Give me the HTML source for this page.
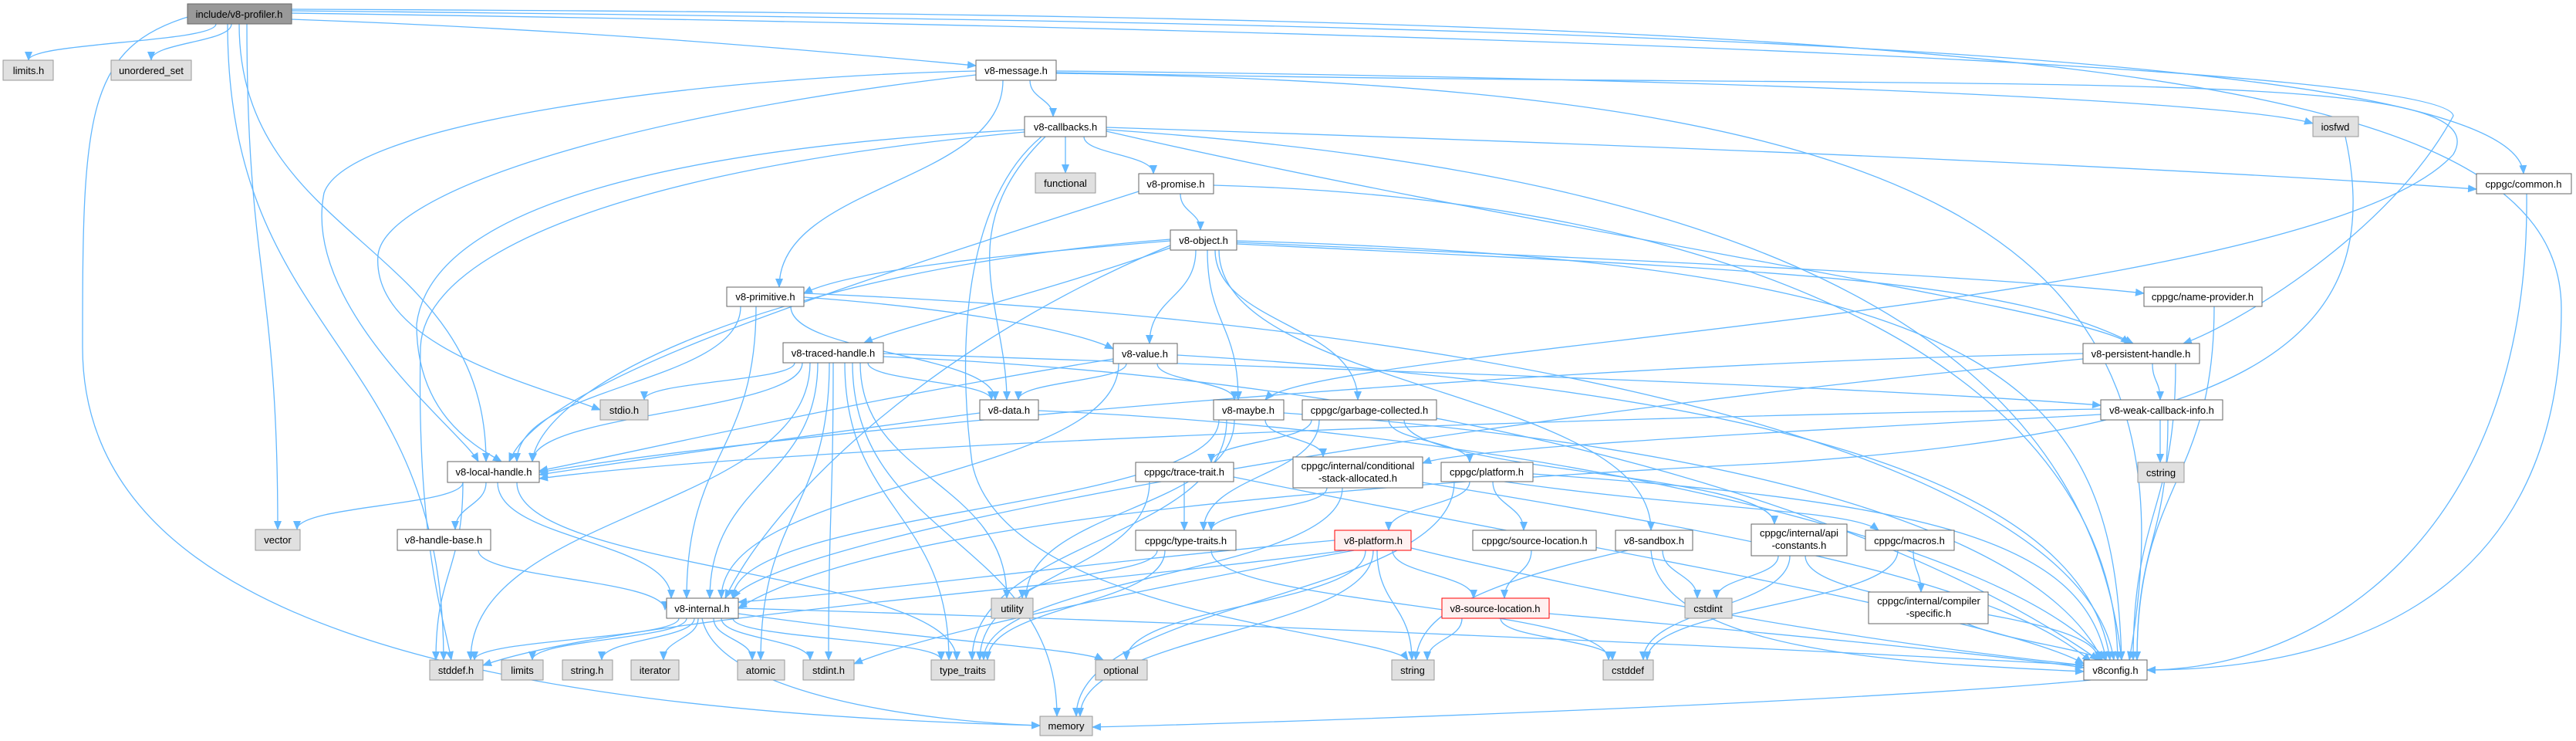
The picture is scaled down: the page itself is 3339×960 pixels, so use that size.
<!DOCTYPE html>
<html><head><meta charset="utf-8"><style>
html,body{margin:0;padding:0;background:#fff;width:3339px;height:960px;overflow:hidden}
svg{display:block}
text{font-family:"Liberation Sans",Arial,sans-serif;font-size:13px;fill:#000;text-anchor:middle}
.e{fill:none;stroke:#63b8ff;stroke-width:1.3;marker-end:url(#a)}
.w{fill:#fff;stroke:#666;stroke-width:1}
.g{fill:#e0e0e0;stroke:#999;stroke-width:1}
.r{fill:#fff0f0;stroke:#f00;stroke-width:1}
.p{fill:#999;stroke:#666;stroke-width:1}
</style></head><body>
<svg width="3339" height="960" viewBox="0 0 3339 960" xmlns="http://www.w3.org/2000/svg">
<defs><marker id="a" markerUnits="userSpaceOnUse" markerWidth="12" markerHeight="10" refX="11" refY="5" orient="auto"><path d="M0,0 L12,5 L0,10 z" fill="#63b8ff"/></marker></defs>
<g>
<path class="e" d="M280,31 C280,55 37,55 37,78"/>
<path class="e" d="M300,31 C300,55 196,55 196,78"/>
<path class="e" d="M378,25 C800,40 1100,70 1265,85"/>
<path class="e" d="M320,31 C320,358 360,358 360,686"/>
<path class="e" d="M250,20 C110,60 107,150 107,450 C107,800 600,920 1348,940"/>
<path class="e" d="M310,31 C310,314 630,314 630,598"/>
<path class="e" d="M295,31 C295,443 575,443 575,855"/>
<path class="e" d="M378,14 C2000,30 3260,60 3271,225"/>
<path class="e" d="M378,17 C2000,40 3170,90 3180,150 C3100,300 2900,420 2830,445"/>
<path class="e" d="M378,12 C2600,20 3320,80 3320,400 C3320,800 3000,868 2783,868"/>
<path class="e" d="M1335,104 C1335,128 1365,128 1365,151"/>
<path class="e" d="M1300,104 C1300,238 1010,238 1010,372"/>
<path class="e" d="M1265,92 C900,100 450,160 420,250 C390,400 600,560 620,598"/>
<path class="e" d="M1265,97 C800,150 500,250 490,330 C480,450 700,500 778,531"/>
<path class="e" d="M1369,92 C2200,100 2900,130 2998,160"/>
<path class="e" d="M1369,95 C2500,110 2860,300 2760,855"/>
<path class="e" d="M1369,94 C2600,120 3250,80 3180,200 C3000,400 1700,450 1640,518"/>
<path class="e" d="M1381,177 C1381,200 1381,200 1381,224"/>
<path class="e" d="M1405,177 C1405,200 1495,200 1495,225"/>
<path class="e" d="M1355,177 C1230,300 1305,400 1305,518"/>
<path class="e" d="M1328,168 C900,190 560,260 540,420 C540,540 620,580 650,598"/>
<path class="e" d="M1328,171 C800,220 550,330 545,450 C540,700 575,800 585,855"/>
<path class="e" d="M1434,165 C2500,200 3000,230 3210,245"/>
<path class="e" d="M1434,168 C2200,220 2700,400 2750,855"/>
<path class="e" d="M1434,170 C2000,300 2700,400 2760,445"/>
<path class="e" d="M1350,177 C1250,260 1240,450 1260,600 C1300,800 1800,820 1825,855"/>
<path class="e" d="M1530,251 C1530,275 1556,275 1556,298"/>
<path class="e" d="M1476,248 C1000,400 700,500 660,598"/>
<path class="e" d="M1573,240 C2300,260 2740,500 2745,855"/>
<path class="e" d="M1517,312 C1300,330 1100,350 1042,380"/>
<path class="e" d="M1520,320 C1350,380 1180,420 1120,444"/>
<path class="e" d="M1550,324 C1550,385 1490,385 1490,445"/>
<path class="e" d="M1565,324 C1565,420 1605,420 1605,518"/>
<path class="e" d="M1575,324 C1575,420 1760,420 1760,518"/>
<path class="e" d="M1603,314 C2200,340 2600,360 2779,380"/>
<path class="e" d="M1603,316 C2300,350 2600,360 2765,445"/>
<path class="e" d="M1580,324 C1580,505 2140,505 2140,687"/>
<path class="e" d="M1517,318 C1200,450 1000,650 940,775"/>
<path class="e" d="M1517,310 C1000,350 700,500 690,598"/>
<path class="e" d="M1603,312 C2600,340 2740,500 2750,855"/>
<path class="e" d="M960,397 C960,498 670,498 670,598"/>
<path class="e" d="M1025,397 C1025,458 1290,458 1290,518"/>
<path class="e" d="M1042,385 C1250,400 1400,430 1443,452"/>
<path class="e" d="M980,397 C980,586 890,586 890,775"/>
<path class="e" d="M1042,380 C2000,420 2700,600 2740,855"/>
<path class="e" d="M1030,470 C1030,494 835,494 835,518"/>
<path class="e" d="M1040,470 C1040,534 690,534 690,598"/>
<path class="e" d="M1060,470 C1060,622 920,622 920,775"/>
<path class="e" d="M1075,470 C1075,662 986,662 986,855"/>
<path class="e" d="M1080,470 C1080,662 1074,662 1074,855"/>
<path class="e" d="M1095,470 C1095,662 1230,662 1230,855"/>
<path class="e" d="M1105,470 C1105,700 1370,700 1370,928"/>
<path class="e" d="M1050,470 C1050,662 610,662 610,855"/>
<path class="e" d="M1115,470 C1115,622 1305,622 1305,775"/>
<path class="e" d="M1125,470 C1125,494 1285,494 1285,518"/>
<path class="e" d="M1145,458 C1800,480 2400,500 2723,525"/>
<path class="e" d="M1145,462 C2000,500 2500,700 2720,855"/>
<path class="e" d="M1460,471 C1460,494 1320,494 1320,518"/>
<path class="e" d="M1443,465 C1100,520 850,580 699,610"/>
<path class="e" d="M1500,471 C1500,494 1600,494 1600,518"/>
<path class="e" d="M1450,471 C1450,622 935,622 935,775"/>
<path class="e" d="M1526,460 C2200,500 2700,600 2735,855"/>
<path class="e" d="M2700,458 C2000,470 1000,560 699,612"/>
<path class="e" d="M2700,465 C1800,550 1000,700 950,775"/>
<path class="e" d="M2790,471 C2790,494 2800,494 2800,518"/>
<path class="e" d="M2820,471 C2820,662 2765,662 2765,855"/>
<path class="e" d="M2870,397 C2870,626 2770,626 2770,855"/>
<path class="e" d="M3275,251 C3280,700 3000,868 2783,868"/>
<path class="e" d="M1270,535 C1000,570 800,600 699,615"/>
<path class="e" d="M1346,532 C2000,560 2600,700 2730,855"/>
<path class="e" d="M1580,544 C1580,660 950,660 950,775"/>
<path class="e" d="M1590,544 C1590,700 1260,700 1260,855"/>
<path class="e" d="M1600,544 C1600,660 1330,660 1330,775"/>
<path class="e" d="M1640,544 C1640,568 1715,568 1715,592"/>
<path class="e" d="M1664,535 C2300,580 2650,700 2725,855"/>
<path class="e" d="M1700,544 C1700,572 1570,572 1570,599"/>
<path class="e" d="M1710,544 C1710,616 1560,616 1560,687"/>
<path class="e" d="M1800,544 C1800,572 1905,572 1905,599"/>
<path class="e" d="M1820,544 C1820,612 2300,612 2300,679"/>
<path class="e" d="M2800,544 C2800,572 2800,572 2800,599"/>
<path class="e" d="M2723,537 C2300,560 1900,580 1844,600"/>
<path class="e" d="M2810,544 C2810,700 2770,700 2770,855"/>
<path class="e" d="M2723,530 C2000,540 1000,580 699,620"/>
<path class="e" d="M3040,177 C3100,450 2900,560 2300,600 C1500,640 1100,700 957,788"/>
<path class="e" d="M600,625 C600,655 385,655 385,686"/>
<path class="e" d="M630,625 C630,655 590,655 590,686"/>
<path class="e" d="M645,625 C645,700 870,700 870,775"/>
<path class="e" d="M600,625 C600,740 565,740 565,855"/>
<path class="e" d="M670,625 C670,740 1240,740 1240,855"/>
<path class="e" d="M620,713 C620,750 862,750 862,790"/>
<path class="e" d="M1535,624 C1535,655 1535,655 1535,687"/>
<path class="e" d="M1599,618 C2000,700 2600,800 2701,860"/>
<path class="e" d="M1490,624 C1490,740 1270,740 1270,855"/>
<path class="e" d="M1720,632 C1720,660 1570,660 1570,687"/>
<path class="e" d="M1740,632 C1740,745 1275,745 1275,855"/>
<path class="e" d="M1844,625 C2300,700 2600,760 2710,857"/>
<path class="e" d="M1905,624 C1905,655 1800,655 1800,687"/>
<path class="e" d="M1935,624 C1935,655 1975,655 1975,687"/>
<path class="e" d="M1885,624 C1885,776 1395,776 1395,928"/>
<path class="e" d="M1987,614 C2500,650 2700,700 2730,855"/>
<path class="e" d="M1950,624 C2200,660 2400,660 2435,687"/>
<path class="e" d="M1500,713 C1500,744 1325,744 1325,775"/>
<path class="e" d="M1510,713 C1510,784 1280,784 1280,855"/>
<path class="e" d="M1570,713 C1570,784 2085,784 2085,855"/>
<path class="e" d="M1730,700 C1400,730 1100,770 957,780"/>
<path class="e" d="M1745,713 C1400,760 800,800 626,862"/>
<path class="e" d="M1755,713 C1500,760 1200,820 1107,860"/>
<path class="e" d="M1770,713 C1770,784 1460,784 1460,855"/>
<path class="e" d="M1785,713 C1785,784 1830,784 1830,855"/>
<path class="e" d="M1780,713 C1780,820 1400,820 1400,928"/>
<path class="e" d="M1805,713 C1805,744 1910,744 1910,775"/>
<path class="e" d="M1829,710 C2200,800 2500,840 2701,862"/>
<path class="e" d="M1985,713 C1985,744 1950,744 1950,775"/>
<path class="e" d="M2155,713 C2155,744 2200,744 2200,775"/>
<path class="e" d="M2140,713 C2150,850 2500,860 2701,870"/>
<path class="e" d="M2110,713 C1900,760 1840,800 1835,855"/>
<path class="e" d="M2305,720 C2305,748 2225,748 2225,775"/>
<path class="e" d="M2320,720 C2320,788 2130,788 2130,855"/>
<path class="e" d="M2340,720 C2340,788 2720,788 2720,855"/>
<path class="e" d="M2480,713 C2480,740 2490,740 2490,767"/>
<path class="e" d="M2460,713 C2460,784 2135,784 2135,855"/>
<path class="e" d="M2550,808 C2600,830 2700,840 2725,855"/>
<path class="e" d="M1895,801 C1895,828 1850,828 1850,855"/>
<path class="e" d="M1945,801 C1945,828 2090,828 2090,855"/>
<path class="e" d="M2008,795 C2300,820 2600,850 2701,865"/>
<path class="e" d="M880,801 C880,828 615,828 615,855"/>
<path class="e" d="M890,801 C890,828 690,828 690,855"/>
<path class="e" d="M900,801 C900,828 780,828 780,855"/>
<path class="e" d="M905,801 C905,828 860,828 860,855"/>
<path class="e" d="M925,801 C925,828 975,828 975,855"/>
<path class="e" d="M935,801 C935,828 1050,828 1050,855"/>
<path class="e" d="M950,801 C950,828 1220,828 1220,855"/>
<path class="e" d="M910,801 C930,900 1200,935 1348,940"/>
<path class="e" d="M957,795 C1200,830 1400,840 1430,855"/>
<path class="e" d="M957,788 C1700,810 2500,850 2701,862"/>
<path class="e" d="M2710,881 C2400,910 1700,935 1416,942"/>
</g>
<g>
<rect class="p" x="243" y="5" width="135" height="26"/><text x="310" y="23">include/v8-profiler.h</text>
<rect class="g" x="4" y="78" width="65" height="26"/><text x="37" y="96">limits.h</text>
<rect class="g" x="144" y="78" width="104" height="26"/><text x="196" y="96">unordered_set</text>
<rect class="w" x="1265" y="78" width="104" height="26"/><text x="1317" y="96">v8-message.h</text>
<rect class="w" x="1328" y="151" width="106" height="26"/><text x="1381" y="169">v8-callbacks.h</text>
<rect class="g" x="1342" y="224" width="78" height="26"/><text x="1381" y="242">functional</text>
<rect class="w" x="1476" y="225" width="97" height="26"/><text x="1524" y="243">v8-promise.h</text>
<rect class="g" x="2998" y="151" width="59" height="26"/><text x="3027" y="169">iosfwd</text>
<rect class="w" x="3210" y="225" width="123" height="26"/><text x="3271" y="243">cppgc/common.h</text>
<rect class="w" x="1517" y="298" width="86" height="26"/><text x="1560" y="316">v8-object.h</text>
<rect class="w" x="942" y="372" width="100" height="25"/><text x="992" y="389">v8-primitive.h</text>
<rect class="w" x="2779" y="372" width="153" height="25"/><text x="2855" y="389">cppgc/name-provider.h</text>
<rect class="w" x="1015" y="444" width="130" height="26"/><text x="1080" y="462">v8-traced-handle.h</text>
<rect class="w" x="1443" y="445" width="83" height="26"/><text x="1484" y="463">v8-value.h</text>
<rect class="w" x="2700" y="445" width="151" height="26"/><text x="2775" y="463">v8-persistent-handle.h</text>
<rect class="g" x="778" y="518" width="62" height="26"/><text x="809" y="536">stdio.h</text>
<rect class="w" x="1270" y="518" width="76" height="26"/><text x="1308" y="536">v8-data.h</text>
<rect class="w" x="1573" y="518" width="91" height="26"/><text x="1618" y="536">v8-maybe.h</text>
<rect class="w" x="1688" y="518" width="174" height="26"/><text x="1775" y="536">cppgc/garbage-collected.h</text>
<rect class="w" x="2723" y="518" width="158" height="26"/><text x="2802" y="536">v8-weak-callback-info.h</text>
<rect class="w" x="580" y="598" width="119" height="27"/><text x="640" y="616">v8-local-handle.h</text>
<rect class="w" x="1472" y="599" width="127" height="25"/><text x="1535" y="616">cppgc/trace-trait.h</text>
<rect class="w" x="1676" y="592" width="168" height="40"/><text x="1760" y="608">cppgc/internal/conditional</text><text x="1760" y="624">-stack-allocated.h</text>
<rect class="w" x="1868" y="599" width="119" height="25"/><text x="1927" y="616">cppgc/platform.h</text>
<rect class="g" x="2771" y="599" width="60" height="26"/><text x="2801" y="617">cstring</text>
<rect class="g" x="331" y="686" width="58" height="27"/><text x="360" y="704">vector</text>
<rect class="w" x="515" y="686" width="121" height="27"/><text x="575" y="704">v8-handle-base.h</text>
<rect class="w" x="1472" y="687" width="130" height="26"/><text x="1537" y="705">cppgc/type-traits.h</text>
<rect class="r" x="1730" y="687" width="99" height="26"/><text x="1780" y="705">v8-platform.h</text>
<rect class="w" x="1909" y="687" width="160" height="26"/><text x="1989" y="705">cppgc/source-location.h</text>
<rect class="w" x="2094" y="687" width="100" height="26"/><text x="2144" y="705">v8-sandbox.h</text>
<rect class="w" x="2270" y="679" width="124" height="41"/><text x="2332" y="695">cppgc/internal/api</text><text x="2332" y="711">-constants.h</text>
<rect class="w" x="2418" y="687" width="115" height="26"/><text x="2475" y="705">cppgc/macros.h</text>
<rect class="w" x="864" y="775" width="93" height="26"/><text x="910" y="793">v8-internal.h</text>
<rect class="g" x="1285" y="775" width="54" height="26"/><text x="1312" y="793">utility</text>
<rect class="r" x="1869" y="775" width="139" height="26"/><text x="1938" y="793">v8-source-location.h</text>
<rect class="g" x="2184" y="775" width="61" height="26"/><text x="2214" y="793">cstdint</text>
<rect class="w" x="2422" y="767" width="155" height="41"/><text x="2500" y="783">cppgc/internal/compiler</text><text x="2500" y="799">-specific.h</text>
<rect class="g" x="557" y="855" width="69" height="26"/><text x="591" y="873">stddef.h</text>
<rect class="g" x="650" y="855" width="54" height="26"/><text x="677" y="873">limits</text>
<rect class="g" x="729" y="855" width="65" height="26"/><text x="761" y="873">string.h</text>
<rect class="g" x="818" y="855" width="62" height="26"/><text x="849" y="873">iterator</text>
<rect class="g" x="956" y="855" width="61" height="26"/><text x="986" y="873">atomic</text>
<rect class="g" x="1041" y="855" width="66" height="26"/><text x="1074" y="873">stdint.h</text>
<rect class="g" x="1207" y="855" width="82" height="26"/><text x="1248" y="873">type_traits</text>
<rect class="g" x="1420" y="855" width="67" height="26"/><text x="1453" y="873">optional</text>
<rect class="g" x="1804" y="855" width="55" height="26"/><text x="1831" y="873">string</text>
<rect class="g" x="2078" y="855" width="65" height="26"/><text x="2110" y="873">cstddef</text>
<rect class="w" x="2701" y="855" width="82" height="26"/><text x="2742" y="873">v8config.h</text>
<rect class="g" x="1348" y="928" width="68" height="25"/><text x="1382" y="945">memory</text>
</g>
</svg>
</body></html>
